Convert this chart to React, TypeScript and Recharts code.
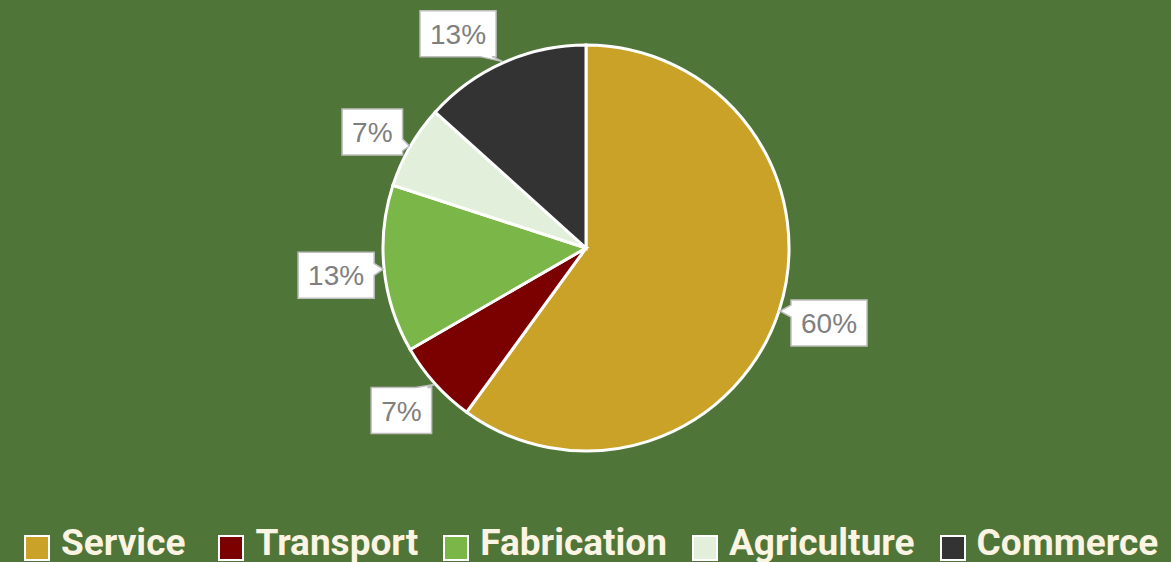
import React from 'react';
import { PieChart, Pie, Cell, Legend } from 'recharts';

const categories = ['Service', 'Transport', 'Fabrication', 'Agriculture', 'Commerce'];
const counts = [9, 1, 2, 1, 2];
const colors = ['#C9A227', '#7B0000', '#7AB648', '#E2EFDA', '#333333'];
// label box centre offsets from the slice edge point (layout only)
const labelOffsets = [[49, 12], [-33, 26], [-47, 6], [-37, -14], [-45, -28]];

const data = categories.map((name, i) => ({ name, value: counts[i] }));

const RADIAN = Math.PI / 180;
const BG = '#507538';

function calloutPath(x0: number, y0: number, x1: number, y1: number, tx: number, ty: number) {
  const cxm = (x0 + x1) / 2, cym = (y0 + y1) / 2;
  const hw = (x1 - x0) / 2, hh = (y1 - y0) / 2;
  const nx = (tx - cxm) / hw, ny = (ty - cym) / hh;
  const bw = 6;
  const clamp = (v: number, a: number, b: number) => Math.max(a, Math.min(b, v));
  if (Math.abs(nx) >= Math.abs(ny)) {
    const b = clamp(ty, y0 + 4 + bw, y1 - 4 - bw);
    if (nx > 0) {
      return `M${x0},${y0} L${x1},${y0} L${x1},${b - bw} L${tx},${ty} L${x1},${b + bw} L${x1},${y1} L${x0},${y1} Z`;
    }
    return `M${x0},${y0} L${x1},${y0} L${x1},${y1} L${x0},${y1} L${x0},${b + bw} L${tx},${ty} L${x0},${b - bw} Z`;
  }
  const b = clamp(tx, x0 + 4 + bw, x1 - 4 - bw);
  if (ny > 0) {
    return `M${x0},${y0} L${x1},${y0} L${x1},${y1} L${b + bw},${y1} L${tx},${ty} L${b - bw},${y1} L${x0},${y1} Z`;
  }
  return `M${x0},${y0} L${b - bw},${y0} L${tx},${ty} L${b + bw},${y0} L${x1},${y0} L${x1},${y1} L${x0},${y1} Z`;
}

const renderLabel = (props: any) => {
  const { cx, cy, midAngle, outerRadius, percent, index } = props;
  const ex = cx + (outerRadius + 1) * Math.cos(-midAngle * RADIAN);
  const ey = cy + (outerRadius + 1) * Math.sin(-midAngle * RADIAN);
  const text = `${Math.round(percent * 100)}%`;
  const fs = 28;
  let tw = 0;
  for (const ch of text) tw += ch === '%' ? 0.889 * fs : 0.556 * fs;
  const w = tw + 20;
  const h = 46;
  const [dx, dy] = labelOffsets[index];
  const bx = ex + dx, by = ey + dy;
  const x0 = bx - w / 2, x1 = bx + w / 2, y0 = by - h / 2, y1 = by + h / 2;
  return (
    <g key={`lbl-${index}`}>
      <path d={calloutPath(x0, y0, x1, y1, ex, ey)} fill="#FFFFFF" stroke="#BFBFBF" strokeWidth={1.5} />
      <text x={bx} y={by + 10} textAnchor="middle" fontFamily="'Liberation Sans', Arial, sans-serif" fontSize={fs} fill="#7F7F7F">
        {text}
      </text>
    </g>
  );
};

const renderLegend = () => (
  <div style={{ display: 'flex', alignItems: 'flex-start', paddingLeft: 24, height: 34, overflow: 'visible' }}>
    {categories.map((c, i) => (
      <div key={c} style={{ display: 'flex', alignItems: 'flex-start', marginRight: i === 0 ? 33 : 25 }}>
        <div style={{ width: 22, height: 22, background: colors[i], border: '2.5px solid #FFFFFF', marginTop: 9, marginRight: 11, flexShrink: 0 }} />
        <span style={{ fontFamily: 'Roboto, sans-serif', fontWeight: 700, fontSize: 37, lineHeight: '34px', color: '#FBF4E2', whiteSpace: 'nowrap' }}>{c}</span>
      </div>
    ))}
  </div>
);

export default function App() {
  return (
    <div style={{ position: 'fixed', left: 0, top: 0, width: 1171, height: 562, background: BG, overflow: 'hidden' }}>
      <PieChart width={1171} height={562} margin={{ top: 0, right: 0, bottom: 0, left: 0 }}>
        <Pie
          data={data}
          dataKey="value"
          nameKey="name"
          cx={586}
          cy={248}
          outerRadius={203}
          startAngle={90}
          endAngle={-270}
          stroke="#FFFFFF"
          strokeWidth={3}
          label={renderLabel}
          labelLine={false}
          isAnimationActive={false}
        >
          {data.map((d, i) => (
            <Cell key={d.name} fill={colors[i]} />
          ))}
        </Pie>
        <Legend content={renderLegend} wrapperStyle={{ position: 'absolute', left: 0, top: 526, width: 1171, height: 34 }} />
      </PieChart>
    </div>
  );
}
